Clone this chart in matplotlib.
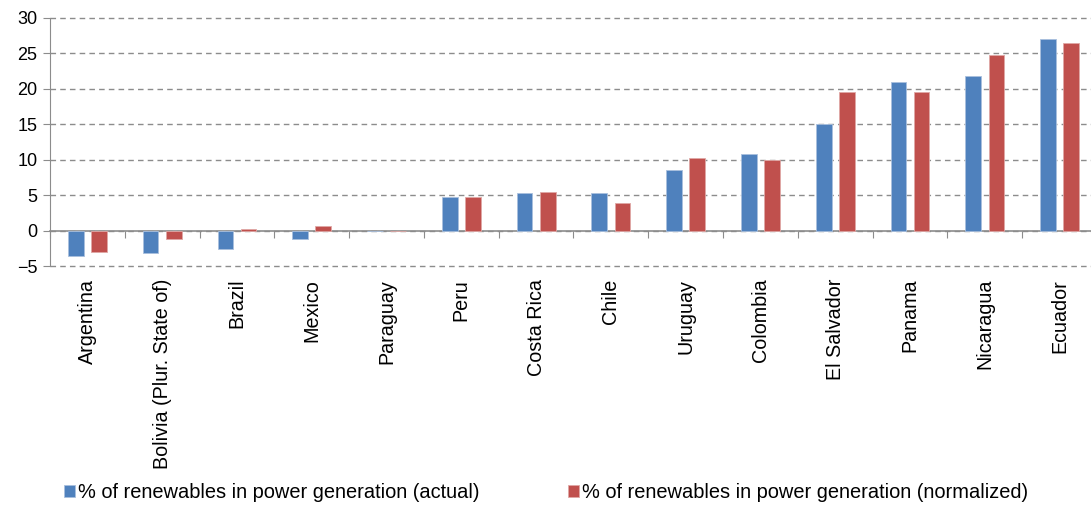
import matplotlib
matplotlib.use("Agg")
from matplotlib import pyplot as plt
import numpy as np

plt.rcParams['font.family'] = ['Liberation Sans', 'DejaVu Sans']

countries = ["Argentina", "Bolivia (Plur. State of)", "Brazil", "Mexico", "Paraguay",
             "Peru", "Costa Rica", "Chile", "Uruguay", "Colombia", "El Salvador",
             "Panama", "Nicaragua", "Ecuador"]
actual = [-3.6, -3.1, -2.5, -1.1, 0.0, 4.8, 5.3, 5.3, 8.5, 10.8, 15.0, 20.9, 21.8, 27.0]
normalized = [-3.0, -1.2, 0.3, 0.7, 0.0, 4.8, 5.4, 3.9, 10.3, 10.0, 19.5, 19.5, 24.8, 26.4]

blue = "#4F81BD"
red = "#C0504D"

fig = plt.figure(figsize=(10.91, 5.08), dpi=100)
ax = fig.add_axes([50/1091, 241.7/508, 1047/1091, 248.6/508])

x = np.arange(len(countries))
w = 0.21
ax.bar(x - 0.155, actual, w, color=blue, edgecolor="#a9c0de", linewidth=0.6,
       label="% of renewables in power generation (actual)", zorder=3)
ax.bar(x + 0.155, normalized, w, color=red, edgecolor="#e0a8a6", linewidth=0.6,
       label="% of renewables in power generation (normalized)", zorder=3)

ax.set_xlim(-0.5, len(countries) - 0.5)
ax.set_ylim(-5, 30)
ax.set_yticks(np.arange(-5, 31, 5))
ax.yaxis.grid(True, linestyle=(0, (4, 3)), color="#8c8c8c", linewidth=1.0, zorder=0)
for gl in ax.get_ygridlines():
    gl.set_clip_on(False)

for s in ["top", "right", "bottom"]:
    ax.spines[s].set_visible(False)
ax.spines["left"].set_color("#8c8c8c")
ax.tick_params(axis="y", length=5, color="#8c8c8c", labelsize=13, pad=4, labelcolor="#000000")

ax.set_xticks(x)
ax.set_xticklabels(countries, rotation=90, fontsize=14.2)
ax.tick_params(axis="x", length=0, pad=9)

# category axis crossing at zero
sec = ax.secondary_xaxis(5/35)
sec.spines["bottom"].set_color("#8c8c8c")
sec.spines["bottom"].set_linewidth(1.2)
sec.set_xticks(np.arange(-0.5, len(countries), 1.0))
sec.set_xticklabels([])
sec.tick_params(axis="x", length=5, color="#8c8c8c", direction="out")

fig.legend(loc="center left", bbox_to_anchor=(64/1091, 1 - 493/508), ncol=2,
           frameon=False, fontsize=14.4, handlelength=0.55, handleheight=0.55,
           handletextpad=0.15, columnspacing=4.4, borderaxespad=0, borderpad=0)

plt.savefig("out.png", dpi=100)
